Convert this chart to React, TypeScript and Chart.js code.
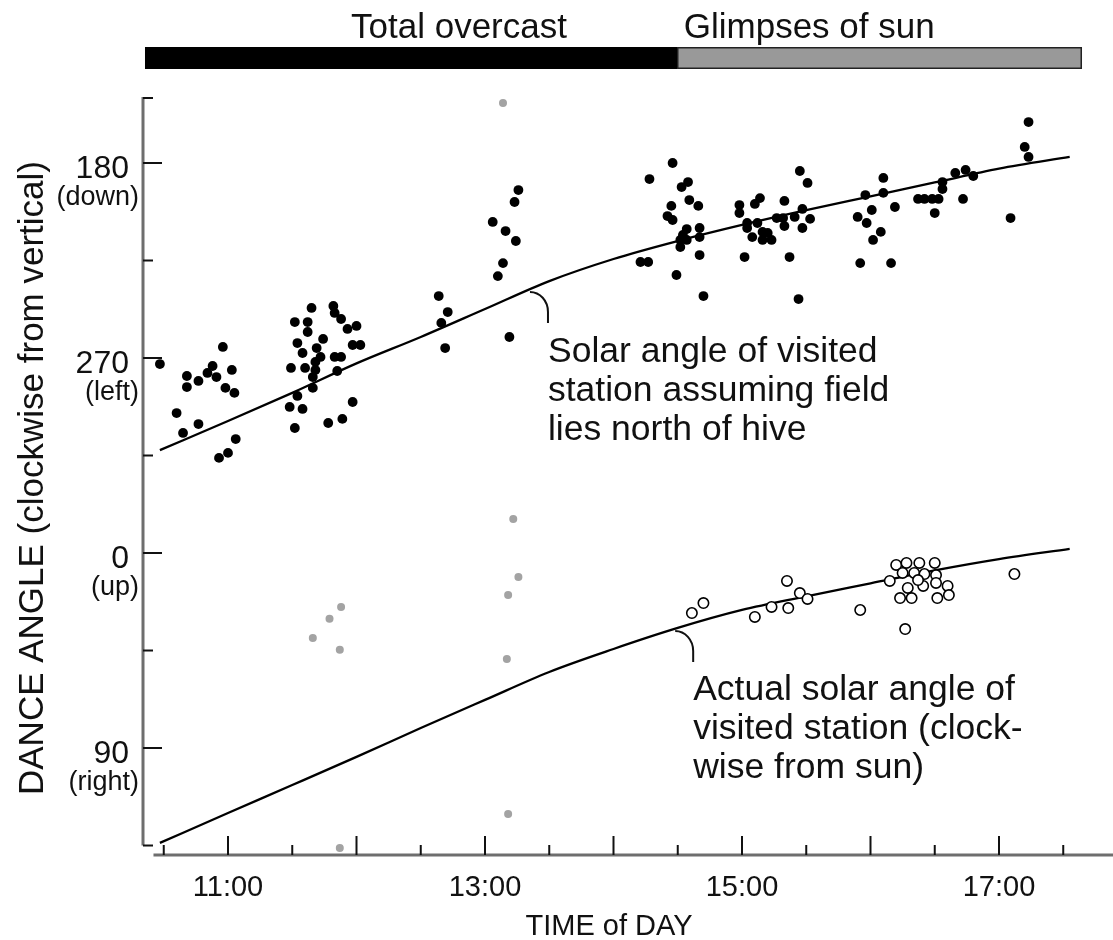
import React, { useEffect, useRef } from 'react';
import { Chart, registerables } from 'chart.js';

Chart.register(...registerables);

const FONT = '"Liberation Sans", Arial, Helvetica, sans-serif';

// Time of day in decimal hours; dance angle in degrees clockwise from vertical,
// unwrapped so the axis runs 180 (down) -> 270 (left) -> 360 = 0 (up) -> 450 = 90 (right)
const curveTimes = [10.47, 11.0, 11.5, 12.0, 12.5, 13.0, 13.5, 14.0, 14.5, 15.0, 15.5, 16.0, 16.5, 17.0, 17.55];
const northFieldCurve = [312.5, 299.1, 286.1, 272.5, 260.3, 247.4, 234.5, 224.3, 216.0, 208.6, 201.8, 195.4, 189.0, 182.6, 177.2];
const actualSolarCurve = [493.8, 480.0, 467.1, 454.1, 440.8, 427.8, 414.9, 404.3, 394.6, 386.3, 380.0, 374.0, 368.0, 362.8, 358.1];

// Dances performed under total overcast (black dots)
const overcastDances: number[][] = [
  [10.47, 272.8], [10.96, 264.9], [10.68, 278.3], [10.68, 283.4], [10.77, 280.6], [10.88, 273.7],
  [10.84, 276.9], [10.91, 278.8], [11.03, 275.5], [10.98, 283.8], [11.05, 286.1], [10.6, 295.4],
  [10.65, 304.6], [10.77, 300.5], [11.06, 307.4], [11.0, 313.8], [10.93, 316.1],
  [11.65, 246.9], [11.52, 253.4], [11.62, 253.4], [11.62, 258.0], [11.82, 246.0], [11.83, 249.2],
  [11.88, 252.0], [11.93, 256.6], [12.0, 255.2], [11.74, 261.2], [11.54, 263.1], [11.58, 267.7],
  [11.69, 265.4], [11.72, 269.5], [11.83, 269.5], [11.88, 269.5], [11.97, 264.0], [12.03, 264.0],
  [11.49, 274.6], [11.6, 274.6], [11.68, 271.8], [11.68, 275.5], [11.66, 278.8], [11.85, 276.0],
  [11.66, 283.8], [11.54, 287.5], [11.48, 292.6], [11.58, 293.5], [11.97, 290.3], [11.52, 302.3],
  [11.78, 300.0], [11.89, 298.1],
  [12.64, 241.4], [12.71, 248.8], [12.66, 253.8], [12.69, 265.4], [13.26, 192.5], [13.23, 198.0],
  [13.06, 207.2], [13.16, 211.4], [13.24, 216.0], [13.14, 226.2], [13.1, 232.2], [13.19, 260.3],
];

// Dances performed while the sun was glimpsed (black dots)
const glimpseDances: number[][] = [
  [14.46, 180.0], [14.28, 187.4], [14.58, 188.8], [14.53, 191.1], [14.59, 197.1], [14.66, 199.8],
  [14.45, 199.8], [14.42, 204.5], [14.46, 206.3], [14.98, 199.4], [14.98, 203.1], [15.1, 198.9],
  [15.14, 196.2], [15.33, 197.5], [15.45, 183.7], [15.51, 189.2], [15.47, 201.2], [15.41, 204.9],
  [15.53, 205.8], [15.32, 205.4], [15.27, 205.4], [15.33, 209.1], [15.47, 210.0], [14.57, 210.5],
  [14.67, 210.0], [14.54, 213.2], [14.67, 214.2], [14.52, 215.5], [14.57, 215.5], [14.52, 218.8],
  [15.04, 207.7], [15.04, 210.0], [15.12, 207.7], [15.08, 214.2], [15.16, 211.8], [15.16, 215.5],
  [15.23, 215.5], [15.2, 212.3], [14.67, 222.5], [15.02, 223.4], [15.37, 223.4], [14.21, 225.7],
  [14.27, 225.7], [14.49, 231.7], [14.7, 241.4], [15.44, 242.8],
  [17.23, 161.1], [17.2, 172.6], [17.23, 177.2], [16.1, 186.9], [15.96, 194.8], [16.1, 193.8],
  [16.66, 184.6], [16.74, 183.2], [16.8, 186.0], [16.56, 188.8], [16.56, 192.0], [16.53, 196.6],
  [16.48, 196.6], [16.42, 196.6], [16.37, 196.6], [16.72, 196.6], [16.5, 203.1], [16.19, 200.3],
  [16.01, 201.7], [15.9, 204.9], [15.97, 207.7], [16.08, 211.8], [16.02, 215.5], [15.92, 226.2],
  [16.16, 226.2], [17.09, 205.4],
];

// Other dances (grey dots)
const otherDances: number[][] = [
  [13.14, 152.3], [13.22, 344.3], [13.26, 371.1], [13.18, 379.4], [13.17, 408.9], [13.18, 480.4],
  [11.66, 399.2], [11.79, 390.4], [11.88, 384.9], [11.87, 404.7], [11.87, 496.1],
];

// Dances oriented to the actual sun (open circles)
const sunOrientedDances: number[][] = [
  [14.61, 387.7], [14.7, 383.1], [15.1, 389.5], [15.23, 384.9], [15.36, 385.4], [15.35, 372.9],
  [15.45, 378.5], [15.51, 381.2], [15.92, 386.3], [16.27, 395.1], [17.12, 369.7],
  [16.2, 365.5], [16.28, 364.6], [16.38, 364.6], [16.5, 364.6], [16.15, 372.9], [16.25, 369.2],
  [16.34, 369.2], [16.42, 369.7], [16.51, 370.2], [16.29, 376.1], [16.41, 375.2], [16.51, 373.8],
  [16.6, 375.2], [16.23, 380.8], [16.32, 380.8], [16.52, 380.8], [16.61, 379.4], [16.37, 372.5],
];

// Axis ticks
const yMajorTicks = [180, 270, 360, 450];
const yTickLabels = ['180', '270', '0', '90'];
const yTickSubLabels = ['(down)', '(left)', '(up)', '(right)'];
const yMinorTicks = [225, 315, 405, 495];
const xTicks = [10.5, 11, 11.5, 12, 12.5, 13, 13.5, 14, 14.5, 15, 15.5, 16, 16.5, 17, 17.5];
const xLabelTicks = [11, 13, 15, 17];
const xTickLabels = ['11:00', '13:00', '15:00', '17:00'];

// Weather periods (top bar)
const overcastPeriod = [10.354, 14.5];
const glimpsePeriod = [14.5, 17.646];
const periodLabels = ['Total overcast', 'Glimpses of sun'];

const upperNote = ['Solar angle of visited', 'station assuming field', 'lies north of hive'];
const lowerNote = ['Actual solar angle of', 'visited station (clock-', 'wise from sun)'];
const upperNoteAnchor = [13.35, 239.5];
const lowerNoteAnchor = [14.48, 396.0];

const pts = (arr: number[][]) => arr.map(([x, y]) => ({ x, y }));
const curve = (vals: number[]) => curveTimes.map((t, i) => ({ x: t, y: vals[i] }));

export default function App() {
  const ref = useRef<HTMLCanvasElement>(null);

  useEffect(() => {
    const canvas = ref.current;
    if (!canvas) return;

    const decor = {
      id: 'decor',
      beforeDatasetsDraw(chart: any) {
        const { ctx, chartArea: a } = chart;
        const xs = chart.scales.x;
        const ys = chart.scales.y;
        ctx.save();
        // y axis
        ctx.strokeStyle = '#6e6e6e';
        ctx.lineWidth = 3;
        ctx.beginPath();
        ctx.moveTo(a.left, a.top);
        ctx.lineTo(a.left, ys.getPixelForValue(495));
        ctx.stroke();
        // x axis
        ctx.beginPath();
        ctx.moveTo(xs.getPixelForValue(10.42), a.bottom);
        ctx.lineTo(a.right, a.bottom);
        ctx.stroke();

        ctx.strokeStyle = '#111';
        ctx.lineWidth = 2;
        // y ticks
        yMajorTicks.forEach((v) => {
          const py = ys.getPixelForValue(v);
          ctx.beginPath();
          ctx.moveTo(a.left, py);
          ctx.lineTo(a.left + 19, py);
          ctx.stroke();
        });
        yMinorTicks.forEach((v) => {
          const py = ys.getPixelForValue(v);
          ctx.beginPath();
          ctx.moveTo(a.left, py);
          ctx.lineTo(a.left + 10, py);
          ctx.stroke();
        });
        ctx.beginPath();
        ctx.moveTo(a.left, a.top + 1);
        ctx.lineTo(a.left + 10, a.top + 1);
        ctx.stroke();
        // x ticks
        xTicks.forEach((v) => {
          const px = xs.getPixelForValue(v);
          const major = Number.isInteger(v);
          ctx.beginPath();
          ctx.moveTo(px, a.bottom);
          ctx.lineTo(px, a.bottom - (major ? 19 : 10));
          ctx.stroke();
        });

        // tick labels
        ctx.fillStyle = '#111';
        ctx.textAlign = 'right';
        ctx.textBaseline = 'alphabetic';
        yMajorTicks.forEach((v, i) => {
          const py = ys.getPixelForValue(v);
          ctx.font = `32px ${FONT}`;
          ctx.fillText(yTickLabels[i], 129, py + 15);
          ctx.font = `27px ${FONT}`;
          ctx.fillText(yTickSubLabels[i], 139, py + 42);
        });
        ctx.textAlign = 'center';
        ctx.font = `29px ${FONT}`;
        xLabelTicks.forEach((v, i) => {
          ctx.fillText(xTickLabels[i], xs.getPixelForValue(v), 896);
        });
        // axis titles
        ctx.font = `29px ${FONT}`;
        ctx.fillText('TIME of DAY', 609, 935);
        ctx.save();
        ctx.translate(43, 478);
        ctx.rotate(-Math.PI / 2);
        ctx.font = `35px ${FONT}`;
        ctx.fillText('DANCE ANGLE (clockwise from vertical)', 0, 0);
        ctx.restore();

        // top weather bar
        const barTop = 47;
        const barH = 22;
        const x0 = xs.getPixelForValue(overcastPeriod[0]);
        const x1 = xs.getPixelForValue(overcastPeriod[1]);
        const x2 = xs.getPixelForValue(glimpsePeriod[1]);
        ctx.fillStyle = '#000';
        ctx.fillRect(x0, barTop, x1 - x0, barH);
        ctx.fillStyle = '#999';
        ctx.fillRect(x1, barTop, x2 - x1, barH);
        ctx.strokeStyle = '#222';
        ctx.lineWidth = 1.5;
        ctx.strokeRect(x1, barTop + 0.75, x2 - x1 - 0.75, barH - 1.5);
        ctx.fillStyle = '#111';
        ctx.font = `35px ${FONT}`;
        ctx.textAlign = 'center';
        ctx.fillText(periodLabels[0], 459, 38);
        ctx.textAlign = 'left';
        ctx.fillText(periodLabels[1], x1 + 6, 38);

        // annotations with leader hooks
        const drawNote = (anchor: number[], lines: string[], baseline: number) => {
          const ax = xs.getPixelForValue(anchor[0]);
          const ay = ys.getPixelForValue(anchor[1]);
          ctx.strokeStyle = '#111';
          ctx.lineWidth = 2;
          ctx.beginPath();
          ctx.ellipse(ax, ay + 20, 18, 20, 0, -Math.PI / 2, 0);
          ctx.lineTo(ax + 18, ay + 31);
          ctx.stroke();
          ctx.fillStyle = '#111';
          ctx.font = `35.5px ${FONT}`;
          ctx.textAlign = 'left';
          lines.forEach((s, i) => ctx.fillText(s, ax + 18, baseline + i * 39));
        };
        drawNote(upperNoteAnchor, upperNote, 362);
        drawNote(lowerNoteAnchor, lowerNote, 700);
        ctx.restore();
      },
    };

    const chart = new Chart(canvas, {
      type: 'scatter',
      data: {
        datasets: [
          {
            label: 'Dances, overcast',
            data: pts(overcastDances),
            pointRadius: 4.9,
            pointBackgroundColor: '#000',
            pointBorderWidth: 0,
            order: 1,
          },
          {
            label: 'Dances, glimpses of sun',
            data: pts(glimpseDances),
            pointRadius: 4.9,
            pointBackgroundColor: '#000',
            pointBorderWidth: 0,
            order: 1,
          },
          {
            label: 'Other dances',
            data: pts(otherDances),
            pointRadius: 4,
            pointBackgroundColor: '#a3a3a3',
            pointBorderWidth: 0,
            order: 2,
          },
          {
            label: 'Sun-oriented dances',
            data: pts(sunOrientedDances),
            pointRadius: 5.2,
            pointBackgroundColor: '#fff',
            pointBorderColor: '#000',
            pointBorderWidth: 1.6,
            order: 1,
          },
          {
            label: 'Solar angle assuming field north of hive',
            data: curve(northFieldCurve),
            showLine: true,
            pointRadius: 0,
            borderColor: '#000',
            borderWidth: 2.3,
            cubicInterpolationMode: 'monotone',
            order: 5,
          },
          {
            label: 'Actual solar angle',
            data: curve(actualSolarCurve),
            showLine: true,
            pointRadius: 0,
            borderColor: '#000',
            borderWidth: 2.3,
            cubicInterpolationMode: 'monotone',
            order: 5,
          },
        ],
      },
      options: {
        animation: false,
        responsive: false,
        layout: { autoPadding: false, padding: { left: 143, top: 97, right: 0, bottom: 85 } },
        plugins: { legend: { display: false }, tooltip: { enabled: false } },
        scales: {
          x: { type: 'linear', min: 10.3385, max: 17.8872, display: false },
          y: { type: 'linear', min: 149.54, max: 499.38, reverse: true, display: false },
        },
        datasets: { scatter: { clip: false } } as any,
      },
      plugins: [decor],
    } as any);

    return () => chart.destroy();
  }, []);

  return (
    <div style={{ position: 'fixed', left: 0, top: 0, width: 1113, height: 940, background: '#fff', overflow: 'hidden' }}>
      <canvas ref={ref} width={1113} height={940} style={{ display: 'block', width: 1113, height: 940 }} />
    </div>
  );
}
